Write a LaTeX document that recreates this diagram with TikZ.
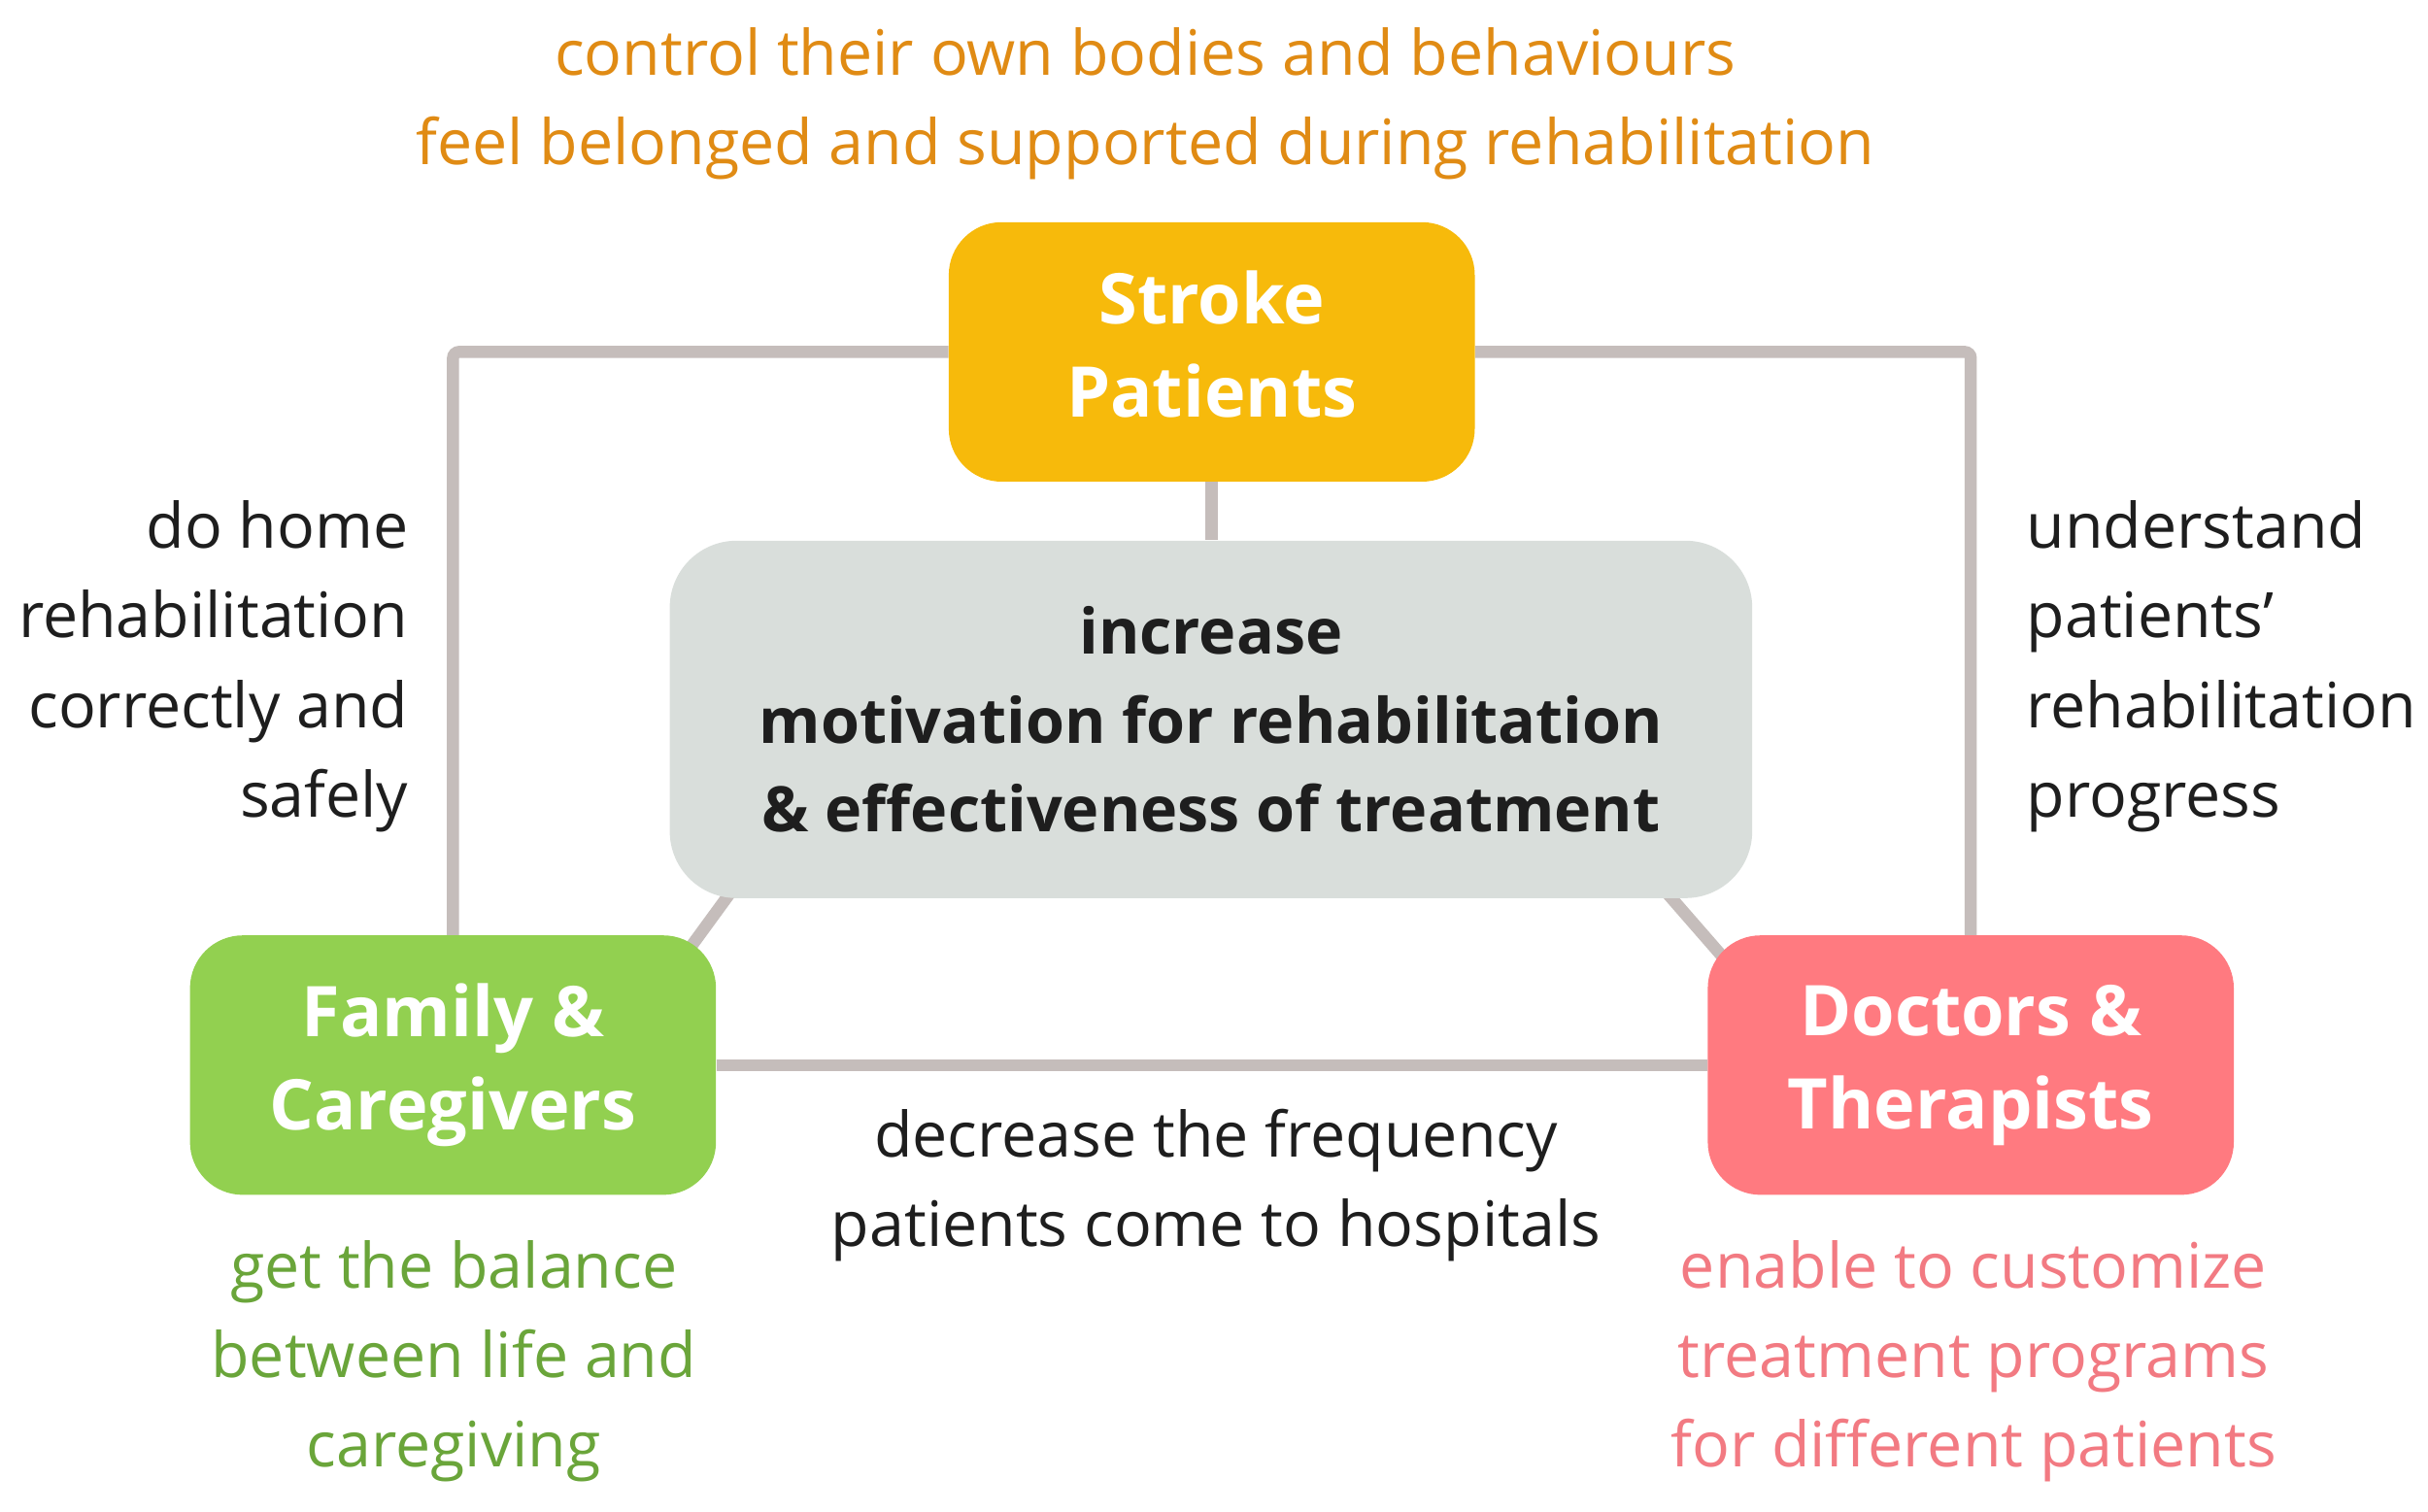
\documentclass[tikz,border=0pt]{standalone}
\usepackage{fontspec}
\setmainfont{Open Sans}
\usetikzlibrary{backgrounds}
\definecolor{boxorange}{HTML}{F7BA0B}
\definecolor{boxgreen}{HTML}{92D050}
\definecolor{boxpink}{HTML}{FF7A80}
\definecolor{cengray}{HTML}{D9DEDB}
\definecolor{linegray}{HTML}{C5BDBB}
\definecolor{otext}{HTML}{E08B14}
\definecolor{gtext}{HTML}{6AA53A}
\definecolor{ptext}{HTML}{F27A82}
\definecolor{ktext}{HTML}{1E1E1E}
\begin{document}
\begin{tikzpicture}[x=1pt,y=-1pt,
  box/.style={rectangle, rounded corners=34pt, inner sep=0pt,
    minimum width=338.5pt, minimum height=167pt, text=white, align=center,
    font=\fontsize{45}{60}\selectfont\bfseries},
  conn/.style={draw=linegray, line width=7.8pt},
  lbl/.style={inner sep=0pt, font=\fontsize{40.3}{57.6}\selectfont}]
\useasboundingbox (0,0) rectangle (1562.5,973.1);

% boxes
\node[box, fill=boxorange] (stk) at (779.8,226.5) {Stroke\\Patients\vphantom{g}};
\node[box, fill=boxgreen] (fam) at (291.5,685.5) {Family \&\\Caregivers};
\node[box, fill=boxpink] (doc) at (1268.25,685.5) {Doctors \&\\Therapists};
\node[rectangle, rounded corners=43pt, fill=cengray, inner sep=0pt,
  minimum width=696.6pt, minimum height=230pt, align=center, text=ktext,
  font=\fontsize{40.4}{57.3}\selectfont\bfseries] (cen) at (779.3,463)
  {increase\\motivation for rehabilitation\\\& effectiveness of treatment};

% connectors
\begin{scope}[on background layer]
\draw[conn, rounded corners=4pt] (stk.west) -| (fam.north);
\draw[conn, rounded corners=4pt] (stk.east) -| (doc.north);
\draw[conn] (fam.east) -- (doc.west);
\draw[conn] (stk.south) -- (stk.south |- cen.north);
\draw[conn] ([shift={(-24,18)}]fam.north east) -- ([shift={(46,-13)}]cen.south west);
\draw[conn] ([shift={(15,20)}]doc.north west) -- ([shift={(-61.6,-11)}]cen.south east);
\end{scope}

% labels (anchor=base is the baseline of the last line)
\node[lbl, text=otext, align=center, anchor=base] (tp) at (737,105.9)
  {control their own bodies and behaviours\\feel belonged and supported during rehabilitation};
\node[lbl, text=ktext, align=right, anchor=base east] (lt) at (263,525.8)
  {do home\\rehabilitation\\correctly and\\safely};
\node[lbl, text=ktext, align=left, anchor=base west] (rt) at (1304,525.8)
  {understand\\patients’\\rehabilitation\\progress};
\node[lbl, text=ktext, align=center, anchor=base] (bt) at (782.5,802)
  {decrease the frequency\\patients come to hospitals};
\node[lbl, text=gtext, align=center, anchor=base] (gt) at (292,944.2)
  {get the balance\\between life and\\caregiving};
\node[lbl, text=ptext, align=center, anchor=base] (pt) at (1270,944.2)
  {enable to customize\\treatment programs\\for different patients};
\end{tikzpicture}
\end{document}
